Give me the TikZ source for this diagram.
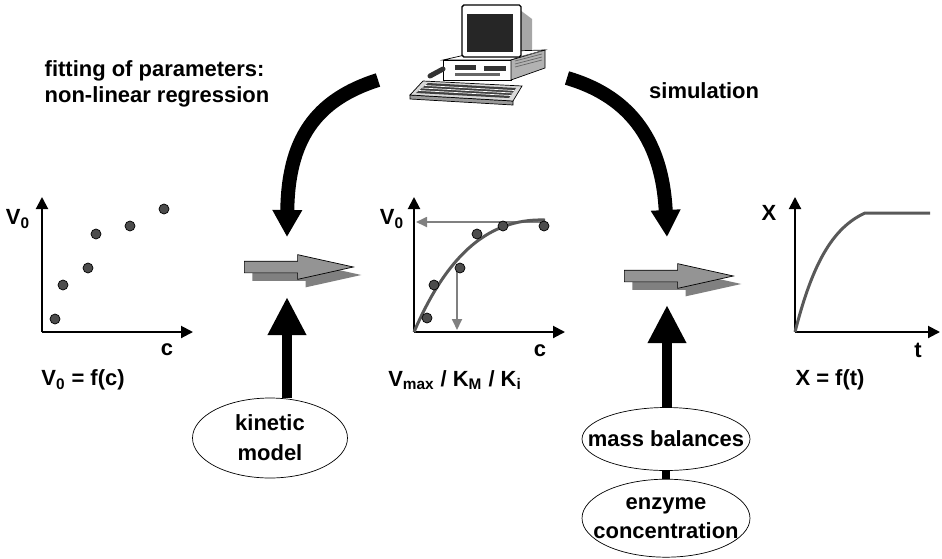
\documentclass[tikz,border=0pt]{standalone}
\usepackage{fontspec}
\setmainfont{Liberation Sans}
\usetikzlibrary{shapes.geometric, shapes.arrows, arrows.meta, shadows, positioning, calc}
\newcommand{\lblfont}{\fontsize{12.5}{14.5}\selectfont\bfseries}

\begin{document}
\begin{tikzpicture}[
  x=0.02cm, y=-0.02cm,
  lbl/.style={font=\lblfont},
  axis/.style={line width=0.04cm, -{Triangle[width=0.24cm,length=0.24cm]}},
  dot/.style={circle, draw=black, fill=black!70, minimum size=0.2cm, inner sep=0pt},
  fitcurve/.style={line width=0.06cm, black!65},
  guide/.style={line width=0.035cm, black!50, -{Triangle[width=0.2cm,length=0.22cm]}},
  flow/.style={single arrow, draw=black, thin, fill=black!42, minimum height=2.18cm,
    inner xsep=0pt, inner ysep=0.11cm, single arrow head extend=0.13cm, single arrow tip angle=25,
    drop shadow={shadow xshift=0.16cm, shadow yshift=-0.16cm, fill=black!50, opacity=1}},
  model/.style={ellipse, draw, thin, inner sep=0pt},
  modeltext/.style={font=\fontsize{12.5}{17}\selectfont\bfseries, align=center},
  swing/.style={line width=0.28cm, -{Triangle[width=0.56cm,length=0.54cm]}},
  push/.style={line width=0.19cm, -{Triangle[width=0.72cm,length=0.76cm]}}
]
\useasboundingbox (0,0) rectangle (942,558);

% Computer
\fill[black!35] (520,10) -- (532,19) -- (532,52) -- (520,58) -- cycle;
\draw[fill=white] (443,60) -- (478,52) -- (545,50) -- (511,60) -- cycle;
\draw[fill=white] (443,60) rectangle (511,80);
\draw[fill=black!30] (511,60) -- (545,50) -- (545,68) -- (511,80) -- cycle;
\foreach \s in {54,57,60,63} \draw[black!60] (515,\s+4) -- (542,\s-3);
\fill[black!80] (455,65) rectangle (476,70);
\fill[black!80] (484,66) rectangle (506,71);
\fill[black!60] (455,73) rectangle (500,76);
\draw[thick, fill=white, rounded corners=1pt] (462,5) rectangle (521,57);
\fill[black!85] (467,14) rectangle (513,52);
\draw[line width=0.1cm, line cap=round, black!80] (430,76) -- (443,69);
\draw[fill=black!40] (410,95) -- (513,101) -- (513,105) -- (410,99) -- cycle;
\draw[fill=black!15] (423,81) -- (522,86) -- (513,101) -- (410,95) -- cycle;
\fill[black!75] (428,83) -- (516,88) -- (509,98) -- (416,93) -- cycle;
\foreach \k in {0.25,0.5,0.75}
  \draw[white, thin] ($(428,83)!\k!(416,93)$) -- ($(516,88)!\k!(509,98)$);

% Texts on top
\node[lbl, align=left] (fittxt) at (157,84) {fitting of parameters:\\non-linear regression};
\node[lbl, anchor=west] (simtxt) at (643,91) {simulation};

% Measured rates
\coordinate (o1) at (42,332);
\draw[axis] (o1) -- (42,197);
\draw[axis] (o1) -- (193,332);
\node[lbl] (v1) at (18,219) {V\textsubscript{0}};
\node[lbl] (c1) at (167,350) {c};
\foreach \x/\y [count=\i] in {55/319, 63/285, 88/268, 96/234, 130/226, 164/209}
  \node[dot] (m\i) at (\x,\y) {};
\node[lbl] (f1) at (83,380) {V\textsubscript{0} = f(c)};

% Fitted kinetics
\coordinate (o2) at (414,332);
\draw[guide] (545,222) -- (416,222);
\draw[guide] (457,268) -- (457,330);
\draw[axis] (o2) -- (414,197);
\draw[axis] (o2) -- (565,332);
\draw[fitcurve] (o2) .. controls (445,260) and (485,218) .. (545,220);
\node[lbl] (v2) at (392,219) {V\textsubscript{0}};
\node[lbl] (c2) at (540,351) {c};
\foreach \x/\y [count=\i] in {427/318, 434/285, 460/268, 477/234, 503/226, 544/226}
  \node[dot] (k\i) at (\x,\y) {};
\node[lbl] (f2) at (455,380) {V\textsubscript{max} / K\textsubscript{M} / K\textsubscript{i}};

% Simulated course
\coordinate (o3) at (795,332);
\draw[axis] (o3) -- (795,197);
\draw[axis] (o3) -- (940,332);
\draw[fitcurve] (o3) .. controls (812,265) and (832,228) .. (865,213) -- (930,213);
\node[lbl] (x3) at (769,213) {X};
\node[lbl] (t3) at (918,350) {t};
\node[lbl] (f3) at (830,380) {X = f(t)};

% Steps
\node[flow, anchor=tail] (fit) at (244,267) {};
\node[flow, anchor=tail] (sim) at (624,276) {};

% Models
\node[model, minimum width=3.1cm, minimum height=1.6cm,
  label={[modeltext]center:kinetic\\model}] (kin) at (270,438) {};
\node[model, minimum width=3.36cm, minimum height=1.26cm,
  label={[modeltext]center:mass balances}] (mass) at (666,439) {};
\node[model, minimum width=3.36cm, minimum height=1.56cm, below=0.16cm of mass,
  label={[modeltext]center:enzyme\\concentration}] (enz) {};

% Flow
\coordinate (fitfrom) at (378,80);
\coordinate (fitto) at (287,237);
\draw[swing] (fitfrom) .. controls (315,100) and (288,140) .. (fitto);
\coordinate (simfrom) at (567,78);
\coordinate (simto) at (667,237);
\draw[swing] (simfrom) .. controls (625,95) and (662,135) .. (simto);
\coordinate (kinto) at (287,297);
\draw[push] (kinto |- kin.north) -- (kinto);
\coordinate (massto) at (667,305);
\draw[push] (massto |- mass.north) -- (massto);
\draw[line width=0.16cm] (mass.south) -- (enz.north);
\end{tikzpicture}
\end{document}
